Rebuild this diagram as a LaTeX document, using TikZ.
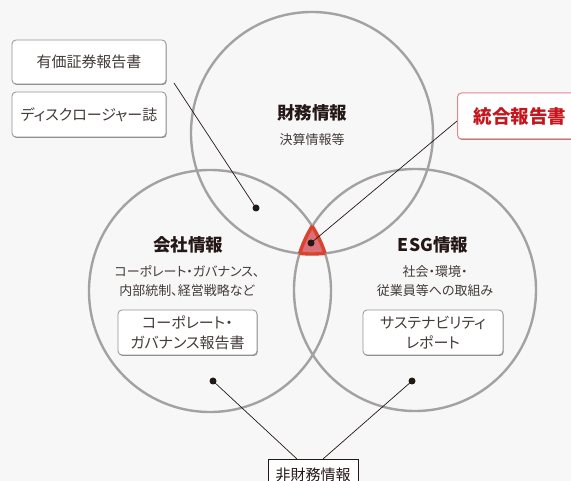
\documentclass[tikz,border=0pt]{standalone}
\usepackage{fontspec}
\setmainfont{Noto Sans CJK JP}[RawFeature=+palt]
\usetikzlibrary{positioning, shadows}

\definecolor{paper}{HTML}{F7F7F7}
\definecolor{ringgray}{HTML}{A2A2A2}
\definecolor{inkdark}{HTML}{231815}
\definecolor{tougoured}{HTML}{C4161C}
\definecolor{tougouline}{HTML}{E3868C}
\definecolor{corefill}{HTML}{DB6F77}
\definecolor{coreline}{HTML}{D9432D}

\tikzset{
  ring/.style={draw=ringgray, line width=2.4pt},
  docbox/.style={draw=gray!85, fill=white, rounded corners=4pt, line width=0.8pt,
    drop shadow={shadow xshift=0.7pt, shadow yshift=-1pt, fill=black!55, opacity=0.8},
    align=center, text=inkdark!85, font=\fontsize{15}{20}\selectfont},
  title/.style={font=\fontsize{17.5}{20}\selectfont\bfseries, text=inkdark},
  detail/.style={font=\fontsize{13}{19}\selectfont, text=inkdark!85, align=center},
  pin/.style={circle, fill=inkdark, inner sep=0pt, minimum size=7pt},
  lead/.style={draw=inkdark, line width=0.7pt},
}

\begin{document}
\begin{tikzpicture}[x=1pt, y=-1pt]
  \fill[paper] (0,0) rectangle (571,481);
  \useasboundingbox (0,0) rectangle (571,481);

  % centres of the three circles
  \coordinate (fin) at (312,133);
  \coordinate (kai) at (210,291);
  \coordinate (esg) at (415,290);

  \draw[ring] (fin) circle[radius=121pt];
  \draw[ring] (kai) circle[radius=121pt];
  \draw[ring] (esg) circle[radius=121pt];

  % common part of all three
  \begin{scope}
    \clip (fin) circle[radius=121pt];
    \clip (kai) circle[radius=121pt];
    \fill[corefill] (esg) circle[radius=121pt];
  \end{scope}
  \begin{scope}
    \clip (kai) circle[radius=121pt];
    \clip (esg) circle[radius=121pt];
    \draw[coreline, line width=3.4pt] (fin) circle[radius=121pt];
  \end{scope}
  \begin{scope}
    \clip (fin) circle[radius=121pt];
    \clip (esg) circle[radius=121pt];
    \draw[coreline, line width=3.4pt] (kai) circle[radius=121pt];
  \end{scope}
  \begin{scope}
    \clip (fin) circle[radius=121pt];
    \clip (kai) circle[radius=121pt];
    \draw[coreline, line width=3.4pt] (esg) circle[radius=121pt];
  \end{scope}

  % texts in the circles
  \node[title] (fintitle) at (312,113) {財務情報};
  \node[detail] (findetail) at (312,140) {決算情報等};
  \node[title] (kaititle) at (188,245) {会社情報};
  \node[detail] (kaidetail) at (187,281.5) {コーポレート・ガバナンス、\\内部統制、経営戦略など};
  \node[title] (esgtitle) at (433,245) {ESG情報};
  \node[detail] (esgdetail) at (435,281.5) {社会・環境・\\従業員等への取組み};

  % reports
  \node[docbox, minimum width=154pt, minimum height=44pt] (yuho) at (89,62) {有価証券報告書};
  \node[docbox, minimum width=154pt, minimum height=45pt] (disc) at (89,114.5) {ディスクロージャー誌};
  \node[docbox, minimum width=139pt, minimum height=45pt] (cgbox) at (187.5,332.5) {コーポレート・\\ガバナンス報告書};
  \node[docbox, minimum width=140pt, minimum height=45pt] (susbox) at (433,332.5) {サステナビリティ\\レポート};
  \node[docbox, draw=tougouline, line width=1pt, anchor=west, minimum height=46pt,
    text width=110pt, align=left, inner xsep=16pt, text=tougoured,
    font=\fontsize{18.5}{20}\selectfont\bfseries,
    drop shadow={shadow xshift=0.6pt, shadow yshift=-0.9pt, fill=tougouline!80!black, opacity=0.6}] (tougou) at (457,116) {統合報告書};

  % pointers
  \node[pin] (dotfin) at (256,208) {};
  \node[pin] (dotcore) at (311,243) {};
  \node[pin] (dotkai) at (213,381) {};
  \node[pin] (dotesg) at (412,381) {};

  \node[draw=inkdark, fill=white, line width=0.8pt, anchor=north, minimum width=90pt,
    minimum height=30pt, text=inkdark, font=\fontsize{15}{16}\selectfont] (nonfin) at (313,459) {非財務情報};

  \coordinate (yuhotail) at (174,83);
  \draw[lead] (yuhotail) -- (dotfin.center);
  \draw[lead] (dotcore.center) -- ([yshift=-5pt]tougou.west);
  \draw[lead] (dotkai.center) -- ([xshift=-16pt]nonfin.north);
  \draw[lead] (dotesg.center) -- ([xshift=10pt]nonfin.north);
\end{tikzpicture}
\end{document}
